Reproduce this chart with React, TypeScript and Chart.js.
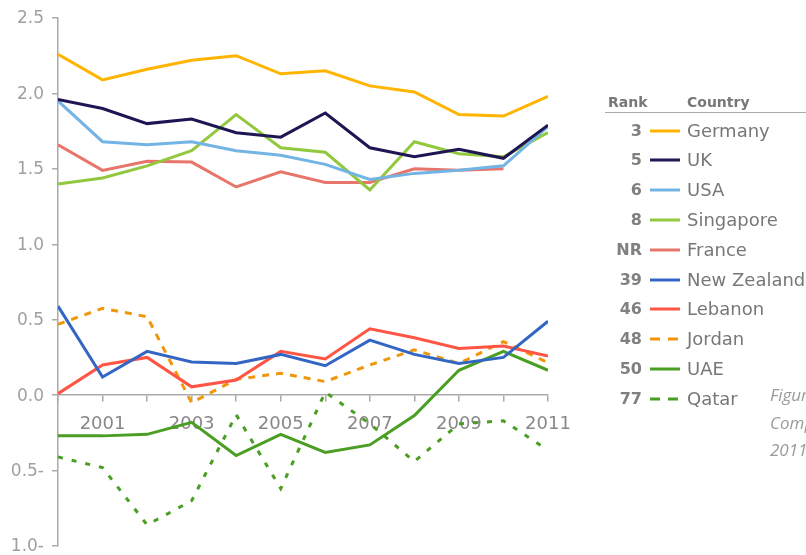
import React, { useEffect, useRef } from "react";
import { Chart, registerables } from "chart.js";

Chart.register(...registerables);

const years = [2000, 2001, 2002, 2003, 2004, 2005, 2006, 2007, 2008, 2009, 2010, 2011];
const yTicks = [-1, -0.5, 0, 0.5, 1, 1.5, 2, 2.5];

const germany = [2.26, 2.09, 2.16, 2.22, 2.25, 2.13, 2.15, 2.05, 2.01, 1.86, 1.85, 1.98];
const uk = [1.96, 1.9, 1.8, 1.83, 1.74, 1.71, 1.87, 1.64, 1.58, 1.63, 1.57, 1.79];
const usa = [1.95, 1.68, 1.66, 1.68, 1.62, 1.59, 1.53, 1.43, 1.47, 1.49, 1.52, 1.78];
const singapore = [1.4, 1.44, 1.52, 1.62, 1.86, 1.64, 1.61, 1.36, 1.68, 1.6, 1.58, 1.74];
const france = [1.66, 1.49, 1.55, 1.545, 1.38, 1.48, 1.41, 1.41, 1.5, 1.49, 1.5, null];
const newZealand = [0.59, 0.12, 0.29, 0.22, 0.21, 0.27, 0.195, 0.365, 0.27, 0.21, 0.25, 0.49];
const lebanon = [0.01, 0.2, 0.25, 0.055, 0.1, 0.29, 0.24, 0.44, 0.38, 0.31, 0.325, 0.26];
const jordan = [0.47, 0.575, 0.52, -0.05, 0.105, 0.145, 0.09, 0.2, 0.3, 0.21, 0.355, 0.215];
const uae = [-0.27, -0.27, -0.26, -0.18, -0.4, -0.26, -0.38, -0.33, -0.135, 0.165, 0.29, 0.165];
const qatar = [-0.41, -0.48, -0.86, -0.7, -0.13, -0.62, 0.02, -0.19, -0.44, -0.19, -0.17, -0.365];

const countries = ["Germany", "UK", "USA", "Singapore", "France", "New Zealand", "Lebanon", "Jordan", "UAE", "Qatar"];
const ranks = ["3", "5", "6", "8", "NR", "39", "46", "48", "50", "77"];
const seriesValues = [germany, uk, usa, singapore, france, newZealand, lebanon, jordan, uae, qatar];
const colors = ["#FFB400", "#1E1654", "#72B4E4", "#92C83E", "#E8756A", "#3366C4", "#FF5545", "#F0960A", "#4A9E23", "#4A9E23"];
const dashes: number[][] = [[], [], [], [], [], [], [], [7, 7], [], [5, 9]];

const FONT = "'DejaVu Sans', Verdana, sans-serif";

const yLabel = (n: number) => (n < 0 ? Math.abs(n).toFixed(1) + "-" : n.toFixed(1));

const yLabelPlugin = {
  id: "yLabels",
  afterDraw(chart: any) {
    const scale = chart.scales.y;
    const ctx = chart.ctx;
    ctx.save();
    ctx.font = `17px ${FONT}`;
    ctx.fillStyle = "#a0a0a0";
    ctx.textAlign = "right";
    ctx.textBaseline = "middle";
    const x = chart.chartArea.left - 14;
    yTicks.forEach((v) => {
      ctx.fillText(yLabel(v), x, scale.getPixelForValue(v) + 1);
    });
    ctx.restore();
  },
};

export default function App() {
  const ref = useRef<HTMLCanvasElement | null>(null);

  useEffect(() => {
    if (!ref.current) return;
    const chart = new Chart(ref.current, {
      type: "line",
      data: {
        datasets: countries.map((name, i) => ({
          label: name,
          data: years.map((yr, j) => ({ x: yr, y: seriesValues[i][j] as any })),
          borderColor: colors[i],
          backgroundColor: colors[i],
          borderWidth: 3,
          borderDash: dashes[i],
          pointRadius: 0,
          fill: false,
          tension: 0,
          spanGaps: false,
        })),
      },
      options: {
        animation: false,
        responsive: false,
        layout: { padding: { left: 0, right: 258, top: 18, bottom: 9 } },
        plugins: { legend: { display: false }, tooltip: { enabled: false } },
        scales: {
          x: {
            type: "linear",
            position: { y: 0 } as any,
            min: 2000,
            max: 2011,
            border: { display: true, color: "#aaaaaa", width: 1.5 },
            grid: { display: true, drawOnChartArea: false, drawTicks: true, tickLength: 6, color: "#aaaaaa", lineWidth: 1.5 },
            afterBuildTicks: (scale: any) => {
              scale.ticks = years.map((v) => ({ value: v }));
            },
            ticks: {
              autoSkip: false,
              maxRotation: 0,
              padding: 12,
              color: "#888888",
              font: { family: FONT, size: 18 },
              callback: (v: any) => (Number(v) % 2 === 1 ? String(v) : ""),
            },
          },
          y: {
            type: "linear",
            min: -1,
            max: 2.5,
            border: { display: true, color: "#aaaaaa", width: 1.5 },
            grid: { display: true, drawOnChartArea: false, drawTicks: true, tickLength: 6, color: "#aaaaaa", lineWidth: 1.5 },
            afterBuildTicks: (scale: any) => {
              scale.ticks = yTicks.map((v) => ({ value: v }));
            },
            afterFit: (scale: any) => {
              scale.width = 58;
              scale.paddingTop = 0;
              scale.paddingBottom = 0;
            },
            ticks: {
              color: "rgba(0,0,0,0)",
              font: { family: FONT, size: 17 },
              callback: (v: any) => yLabel(Number(v)),
            },
          },
        },
      },
      plugins: [yLabelPlugin],
    });
    return () => chart.destroy();
  }, []);

  const rowTop = 130.5;
  const rowStep = 29.8;

  return (
    <div style={{ position: "fixed", left: 0, top: 0, width: 806, height: 555, overflow: "hidden", background: "#fff" }}>
      <canvas ref={ref} width={806} height={555} style={{ position: "absolute", left: 0, top: 0, width: 806, height: 555 }} />
      <div style={{ position: "absolute", left: 608, top: 92, fontFamily: FONT, fontWeight: "bold", fontSize: 14, color: "#777", lineHeight: "20px" }}>Rank</div>
      <div style={{ position: "absolute", left: 687, top: 92, fontFamily: FONT, fontWeight: "bold", fontSize: 14, color: "#777", lineHeight: "20px" }}>Country</div>
      <div style={{ position: "absolute", left: 605, top: 112, width: 201, height: 0, borderTop: "1.5px solid #aaaaaa" }} />
      {countries.map((name, i) => {
        const cy = rowTop + i * rowStep;
        return (
          <React.Fragment key={name}>
            <div style={{ position: "absolute", left: 590, width: 52, top: cy - 12, height: 24, lineHeight: "24px", textAlign: "right", fontFamily: FONT, fontWeight: "bold", fontSize: 16, color: "#808080" }}>{ranks[i]}</div>
            <svg style={{ position: "absolute", left: 650, top: cy - 2 }} width={30} height={4}>
              <line x1={0} y1={2} x2={30} y2={2} stroke={colors[i]} strokeWidth={3} strokeDasharray={dashes[i].length ? "10 8" : undefined} />
            </svg>
            <div style={{ position: "absolute", left: 687, top: cy - 13, height: 26, lineHeight: "26px", whiteSpace: "nowrap", fontFamily: FONT, fontSize: 18, color: "#777" }}>{name}</div>
          </React.Fragment>
        );
      })}
      <div style={{ position: "absolute", left: 770, top: 381, whiteSpace: "nowrap", fontFamily: "'Open Sans', sans-serif", fontStyle: "italic", fontSize: 17, lineHeight: "27.5px", color: "#9a9a9a" }}>
        <div>Figure</div>
        <div>Comparison</div>
        <div>2011</div>
      </div>
    </div>
  );
}
